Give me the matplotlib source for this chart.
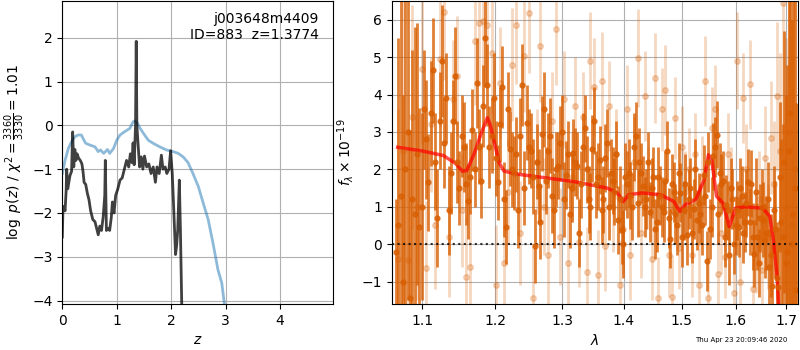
import matplotlib
matplotlib.use('Agg')
import matplotlib.pyplot as plt
from matplotlib.ticker import NullLocator, NullFormatter
import numpy as np

# --- left panel: redshift probability ---
z_pz = [0.00, 0.01, 0.03, 0.05, 0.07, 0.08, 0.10, 0.12, 0.14, 0.17,
        0.19, 0.21, 0.23, 0.25, 0.27, 0.30, 0.33, 0.36, 0.38, 0.40,
        0.43, 0.46, 0.49, 0.52, 0.56, 0.60, 0.63, 0.66, 0.69, 0.72,
        0.75, 0.78, 0.79, 0.81, 0.84, 0.87, 0.90, 0.92, 0.95, 0.98,
        1.02, 1.06, 1.10, 1.14, 1.18, 1.22, 1.25, 1.28, 1.30, 1.32,
        1.345, 1.358, 1.37, 1.39, 1.42, 1.45, 1.48, 1.51, 1.55, 1.59,
        1.63, 1.67, 1.71, 1.74, 1.78, 1.82, 1.85, 1.89, 1.92, 1.96,
        1.99, 2.02, 2.05, 2.08, 2.10, 2.12, 2.15, 2.17, 2.20]
logp = [-2.55, -2.00, -1.85, -1.95, -1.50, -1.00, -1.45, -1.30, -1.15, -1.05,
        -0.15, -0.95, -0.55, -0.80, -0.65, -0.75, -0.80, -0.88, -1.05, -1.30,
        -1.35, -1.55, -1.70, -1.95, -2.15, -2.20, -2.35, -2.50, -2.30, -2.40,
        -2.10, -1.60, -0.80, -2.40, -2.35, -2.40, -2.10, -1.75, -2.00, -1.60,
        -1.45, -1.25, -1.20, -1.00, -0.80, -0.95, -0.65, -0.85, -0.40, -0.90,
        0.00, 1.92, 0.00, -0.40, -0.95, -0.72, -1.00, -0.70, -0.95, -0.88,
        -1.10, -0.95, -1.30, -0.95, -1.10, -0.68, -1.00, -0.95, -1.10, -1.00,
        -0.58, -1.10, -2.00, -2.95, -2.75, -2.40, -1.25, -2.40, -4.50]

z_prior = [0.00, 0.05, 0.11, 0.17, 0.23, 0.29, 0.35, 0.39, 0.43, 0.51,
           0.60, 0.66, 0.70, 0.76, 0.83, 0.87, 0.94, 1.00, 1.06, 1.15,
           1.24, 1.30, 1.33, 1.38, 1.43, 1.49, 1.58, 1.67, 1.79, 1.91,
           2.04, 2.13, 2.22, 2.31, 2.40, 2.50, 2.59, 2.68, 2.77, 2.86,
           2.93, 2.98]
logp_prior = [-1.10, -0.80, -0.53, -0.37, -0.26, -0.22, -0.22, -0.32, -0.41, -0.45,
              -0.49, -0.60, -0.56, -0.64, -0.55, -0.64, -0.53, -0.34, -0.22, -0.14,
              -0.07, 0.08, 0.10, 0.05, -0.07, -0.18, -0.34, -0.41, -0.49, -0.56,
              -0.60, -0.64, -0.72, -0.85, -1.10, -1.40, -1.78, -2.15, -2.70, -3.30,
              -3.60, -4.10]

# --- right panel: spectrum (two beams) ---
lam_a = [1.066, 1.072, 1.078, 1.084, 1.090, 1.096, 1.102, 1.108, 1.114, 1.120,
         1.126, 1.132, 1.138, 1.144, 1.150, 1.156, 1.162, 1.168, 1.174, 1.180,
         1.186, 1.192, 1.198, 1.204, 1.210, 1.216, 1.222, 1.228, 1.234, 1.240,
         1.246, 1.252, 1.258, 1.264, 1.270, 1.276, 1.282, 1.288, 1.294, 1.300,
         1.306, 1.312, 1.318, 1.324, 1.330, 1.336, 1.342, 1.348, 1.354, 1.360,
         1.366, 1.372, 1.378, 1.384, 1.390, 1.396, 1.402, 1.408, 1.414, 1.420,
         1.426, 1.432, 1.438, 1.444, 1.450, 1.456, 1.462, 1.468, 1.474, 1.480,
         1.486, 1.492, 1.498, 1.504, 1.510, 1.516, 1.522, 1.528, 1.534, 1.540,
         1.546, 1.552, 1.558, 1.564, 1.570, 1.576, 1.582, 1.588, 1.594, 1.600,
         1.606, 1.612, 1.618, 1.624, 1.630, 1.636, 1.642, 1.648, 1.654, 1.660,
         1.666, 1.672, 1.678, 1.684, 1.690, 1.696, 1.702, 1.708, 1.714, 1.720]
flux_a = [-0.2, 1.3, 2.0, -1.45, 0.8, 0.45, 3.6, 1.65, 4.65, 0.7,
          4.9, 3.9, 1.9, 4.5, 1.5, 2.6, 1.15, 3.05, 4.3, 1.7,
          5.5, 2.6, 3.9, 1.65, 4.2, 0.46, 2.55, 1.9, 0.9, 4.25,
          3.25, 2.5, -0.05, 1.55, 2.95, 1.7, 2.9, 0.9, 2.1, 3.0,
          1.85, 0.8, 2.45, 2.1, 1.6, 3.1, 1.2, 2.55, 1.6, 2.25,
          1.2, 2.7, 1.9, 1.4, 0.65, 0.38, 1.8, 1.9, 1.0, 2.9,
          2.2, 1.55, 1.2, 0.85, 1.8, 0.6, 1.3, 0.85, 2.5, 0.15,
          1.4, 0.5, 1.38, 0.9, 0.25, 1.5, 0.95, 0.65, 0.8, 1.85,
          -0.46, 0.4, 2.35, 2.93, 1.9, 1.7, 1.05, -0.3, 1.2, 0.5,
          0.45, 1.3, 0.6, 1.65, 1.62, -0.25, 0.2, 0.7, 0.65, 0.3,
          -0.6, -1.13, 0.4, -1.15, 0.6, 2.2, -0.2, 3.5, 0.8, -1.22]
err_a = [1.4, 6, 5, 4.5, 5, 3.2, 1.6, 1.3, 1.4, 1.3,
         1.5, 1.2, 1.1, 1.3, 1.0, 1.2, 1.0, 1.1, 1.2, 1.0,
         1.3, 1.1, 1.2, 1.0, 1.1, 1.0, 1.0, 1.0, 1.0, 1.1,
         1.0, 1.0, 1.0, 1.0, 1.0, 0.9, 1.0, 1.0, 0.9, 1.0,
         0.9, 0.9, 0.9, 0.9, 0.9, 0.9, 0.9, 0.9, 0.9, 0.9,
         0.9, 0.9, 0.9, 0.9, 0.9, 0.9, 0.9, 0.9, 0.9, 0.9,
         0.9, 0.8, 0.8, 0.8, 0.8, 0.8, 0.8, 0.8, 0.8, 0.8,
         0.8, 0.8, 0.8, 0.8, 0.8, 0.8, 0.8, 0.8, 0.8, 0.8,
         0.8, 0.8, 0.9, 0.9, 0.8, 0.8, 0.8, 0.8, 0.8, 0.8,
         0.8, 0.8, 0.8, 0.9, 0.9, 0.9, 0.9, 0.9, 1.0, 1.0,
         1.0, 1.1, 1.3, 1.6, 2.2, 3.5, 5, 6, 6, 5]

lam_b = [1.069, 1.075, 1.081, 1.087, 1.093, 1.099, 1.105, 1.111, 1.117, 1.123,
         1.129, 1.135, 1.141, 1.147, 1.153, 1.159, 1.165, 1.171, 1.177, 1.183,
         1.189, 1.195, 1.201, 1.207, 1.213, 1.219, 1.225, 1.231, 1.237, 1.243,
         1.249, 1.255, 1.261, 1.267, 1.273, 1.279, 1.285, 1.291, 1.297, 1.303,
         1.309, 1.315, 1.321, 1.327, 1.333, 1.339, 1.345, 1.351, 1.357, 1.363,
         1.369, 1.375, 1.381, 1.387, 1.393, 1.399, 1.405, 1.411, 1.417, 1.423,
         1.429, 1.435, 1.441, 1.447, 1.453, 1.459, 1.465, 1.471, 1.477, 1.483,
         1.489, 1.495, 1.501, 1.507, 1.513, 1.519, 1.525, 1.531, 1.537, 1.543,
         1.549, 1.555, 1.561, 1.567, 1.573, 1.579, 1.585, 1.591, 1.597, 1.603,
         1.609, 1.615, 1.621, 1.627, 1.633, 1.639, 1.645, 1.651, 1.657, 1.663,
         1.669, 1.675, 1.681, 1.687, 1.693, 1.699, 1.705, 1.711, 1.717]
# faint points (second beam)
flux_b = [-0.4, 2.5, -0.42, 3.4, 1.0, 4.67, -0.64, 3.2, 0.5, 4.94,
          6.2, 0.2, 3.87, 4.5, 0.9, -0.87, -0.6, 5.43, 5.92, 5.96,
          5.87, 5.1, -1.09, 4.3, -0.5, 1.4, 4.8, 5.87, 0.3, 5.03,
          6.17, -1.43, 2.2, 5.3, 1.0, -0.3, 3.3, 5.76, 0.2, 3.87,
          -0.5, 1.8, 3.7, 0.05, 3.4, -0.75, 4.9, 4.2, -0.82, 4.36,
          -0.05, 3.7, 1.0, 2.4, -1.09, 0.4, 3.6, -0.3, 2.2, 4.98,
          0.3, 3.96, 1.5, -0.4, 4.45, -1.45, 3.6, 4.13, -0.3, -1.4,
          3.38, -0.1, 2.6, 1.4, 2.0, -0.3, 2.4, -1.1, 1.8, 4.36,
          -1.45, 3.1, 3.6, -0.8, 0.3, -0.35, 2.4, 1.5, -1.3, 4.9,
          -1.0, 3.9, 2.0, 4.27, -1.2, -0.1, 1.2, -0.7, 2.3, 0.2,
          2.85, 1.6, 3.95, 2.5, 6.44, 1.0, 3.0, 0.5, 2.0]
err_b = [4, 4, 3.5, 3, 2.5, 2.0, 1.8, 1.8, 1.7, 1.8,
         1.8, 1.6, 1.6, 1.6, 1.5, 1.6, 1.5, 1.7, 1.7, 1.7,
         1.7, 1.6, 1.6, 1.5, 1.5, 1.4, 1.5, 1.6, 1.4, 1.5,
         1.6, 1.4, 1.4, 1.5, 1.3, 1.3, 1.3, 1.5, 1.3, 1.3,
         1.3, 1.2, 1.3, 1.2, 1.2, 1.2, 1.3, 1.3, 1.2, 1.3,
         1.2, 1.2, 1.2, 1.2, 1.2, 1.2, 1.2, 1.2, 1.2, 1.3,
         1.2, 1.2, 1.1, 1.1, 1.2, 1.1, 1.1, 1.2, 1.1, 1.1,
         1.1, 1.1, 1.1, 1.1, 1.1, 1.1, 1.1, 1.1, 1.1, 1.2,
         1.1, 1.1, 1.2, 1.1, 1.1, 1.1, 1.1, 1.1, 1.1, 1.3,
         1.1, 1.2, 1.2, 1.2, 1.2, 1.2, 1.3, 1.3, 1.4, 1.4,
         1.5, 1.7, 2.0, 2.6, 3.5, 4.5, 5, 6, 6]
# strong points on the interleaved grid
flux_c = [0.5, -1.0, 3.0, 1.2, 2.4, 1.0, 2.8, 3.5, 2.2, 3.3,
          2.7, 0.9, 3.3, 2.2, 2.9, 1.6, 1.8, 2.0, 2.6, 3.7,
          4.25, 2.9, 2.3, 3.2, 1.2, 3.6, 2.0, 2.4, 2.9, 1.5,
          2.6, 1.8, 2.2, 0.6, 3.6, 2.5, 1.3, 2.0, 2.7, 1.2,
          2.4, 1.5, 2.2, 0.3, 2.6, 2.0, 1.0, 3.3, 1.8, 0.9,
          2.3, 1.0, 1.7, 2.4, 1.2, 0.0, 1.6, 1.3, 2.6, 1.1,
          1.9, 1.0, 2.2, 1.5, 0.4, 1.8, 1.0, 1.7, 0.7, 1.6,
          0.8, 1.9, 0.2, 1.6, 1.2, 0.3, 2.0, 1.1, 0.5, 1.3,
          2.2, 1.0, 2.6, 0.8, 1.6, 0.2, 0.9, 1.5, 0.0, 0.9,
          1.5, 0.3, 1.1, 0.6, 0.2, 1.4, -0.5, 1.0, 0.1, 1.2,
          -0.3, 0.9, -0.9, 1.8, 0.2, -0.5, 2.5, 0.0, 1.5]
err_c = [5, 5, 4.5, 4, 3.5, 2.5, 1.6, 1.4, 1.3, 1.3,
         1.2, 1.2, 1.1, 1.1, 1.1, 1.1, 1.0, 1.0, 1.0, 1.1,
         1.1, 1.0, 1.0, 1.0, 1.0, 1.0, 1.0, 1.0, 1.0, 1.0,
         1.0, 1.0, 1.0, 1.0, 1.0, 1.0, 1.0, 1.0, 1.0, 1.0,
         0.9, 0.9, 0.9, 0.9, 0.9, 0.9, 0.9, 0.9, 0.9, 0.9,
         0.9, 0.9, 0.9, 0.9, 0.9, 0.9, 0.9, 0.9, 0.9, 0.9,
         0.8, 0.8, 0.8, 0.8, 0.8, 0.8, 0.8, 0.8, 0.8, 0.8,
         0.8, 0.8, 0.8, 0.8, 0.8, 0.8, 0.8, 0.8, 0.8, 0.8,
         0.8, 0.8, 0.8, 0.8, 0.8, 0.8, 0.8, 0.8, 0.8, 0.8,
         0.8, 0.8, 0.9, 0.9, 0.9, 0.9, 0.9, 1.0, 1.0, 1.0,
         1.1, 1.2, 1.5, 2.0, 3.0, 4.5, 5.5, 6, 6]

lam_model = [1.068, 1.100, 1.128, 1.145, 1.154, 1.160, 1.170, 1.181, 1.189, 1.193,
             1.198, 1.206, 1.213, 1.237, 1.316, 1.372, 1.389, 1.399, 1.408, 1.430,
             1.463, 1.486, 1.497, 1.506, 1.526, 1.541, 1.549, 1.555, 1.564, 1.576,
             1.588, 1.600, 1.619, 1.653, 1.667, 1.674, 1.681, 1.684, 1.690]
flux_model = [2.59, 2.49, 2.37, 2.15, 1.95, 1.97, 2.40, 3.00, 3.38, 3.20,
              2.79, 2.17, 1.95, 1.86, 1.68, 1.50, 1.37, 1.14, 1.32, 1.37,
              1.32, 1.14, 0.875, 1.05, 1.20, 1.72, 2.39, 2.26, 1.28, 1.10,
              0.47, 0.96, 1.00, 0.96, 0.74, 0.12, -0.78, -1.49, -3.0]

lam_ticks = [1.1, 1.2, 1.3, 1.4, 1.5, 1.6, 1.7]

fig = plt.figure(figsize=(8, 3.5), dpi=100)
ax1 = fig.add_axes([0.0779, 0.1314, 0.3388, 0.8657])
ax2 = fig.add_axes([0.4896, 0.1314, 0.5085, 0.8657])

ax1.plot(z_prior, logp_prior, color='tab:blue', alpha=0.5, lw=2)
ax1.plot(z_pz, logp, color='k', alpha=0.75, lw=2)
ax1.set_xlim(0, 4.98)
ax1.set_ylim(-4.08, 2.84)
ax1.set_xticks([0, 1, 2, 3, 4])
ax1.grid(True)
ax1.set_xlabel('$z$')
ax1.set_ylabel(r'$\log\ p(z)$ / $\chi^2=\frac{3360}{3330}=1.01$')
ax1.text(0.945, 0.965, 'j003648m4409\nID=883  z=1.3774', transform=ax1.transAxes,
         ha='right', va='top', fontsize=10)

orange = '#d95f02'
ax2.errorbar(lam_b, flux_b, yerr=err_b, color=orange, alpha=0.25, marker='o', ms=4,
             linestyle='None', elinewidth=2)
ax2.errorbar(lam_a, flux_a, yerr=err_a, color=orange, alpha=0.8, marker='o', ms=3.5,
             linestyle='None', elinewidth=2)
ax2.errorbar(lam_b, flux_c, yerr=err_c, color=orange, alpha=0.8, marker='o', ms=3.5,
             linestyle='None', elinewidth=2)
ax2.plot(lam_model, flux_model, color='r', alpha=0.7, lw=2.5)
ax2.axhline(0, color='k', linestyle=':', lw=1.5, alpha=0.8)

ax2.set_xscale('log')
ax2.set_xlim(1.0604, 1.7251)
ax2.set_ylim(-1.6, 6.5)
ax2.set_xticks(lam_ticks, [str(t) for t in lam_ticks])
ax2.xaxis.set_minor_locator(NullLocator())
ax2.xaxis.set_minor_formatter(NullFormatter())
ax2.grid(True)
ax2.set_xlabel(r'$\lambda$')
ax2.set_ylabel(r'$f_\lambda\times10^{-19}$')

fig.text(0.927, 0.028, 'Thu Apr 23 20:09:46 2020', ha='center', va='center', fontsize=5)

fig.savefig('out.png', dpi=100)
